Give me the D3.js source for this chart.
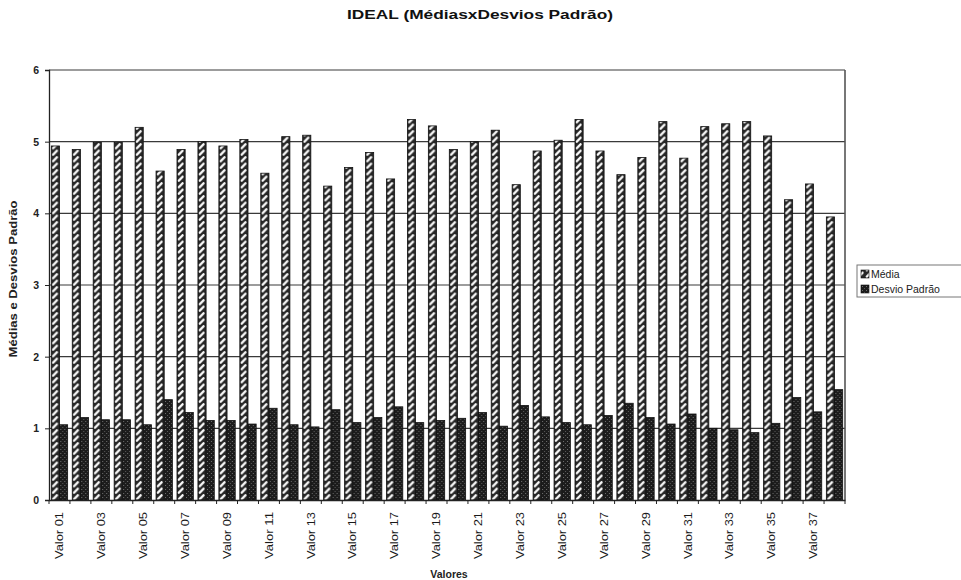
<!DOCTYPE html>
<html>
<head>
<meta charset="utf-8">
<script src="https://cdn.jsdelivr.net/npm/d3@7"></script>
<style>
  html, body { margin: 0; padding: 0; background: #fff; }
  svg { display: block; font-family: Arial, "Liberation Sans", sans-serif; }
</style>
</head>
<body>
<svg id="chart" width="961" height="580"></svg>
<script>
// Categories: Valor 01 .. Valor 38
const categories = [
  "Valor 01","Valor 02","Valor 03","Valor 04","Valor 05","Valor 06","Valor 07","Valor 08",
  "Valor 09","Valor 10","Valor 11","Valor 12","Valor 13","Valor 14","Valor 15","Valor 16",
  "Valor 17","Valor 18","Valor 19","Valor 20","Valor 21","Valor 22","Valor 23","Valor 24",
  "Valor 25","Valor 26","Valor 27","Valor 28","Valor 29","Valor 30","Valor 31","Valor 32",
  "Valor 33","Valor 34","Valor 35","Valor 36","Valor 37","Valor 38"
];

// Média per item
const media = [
  4.94, 4.89, 4.99, 4.99, 5.20, 4.59, 4.89, 5.00, 4.94, 5.03, 4.56, 5.07, 5.09, 4.38,
  4.64, 4.85, 4.48, 5.31, 5.22, 4.89, 5.00, 5.16, 4.40, 4.87, 5.02, 5.31, 4.87, 4.54,
  4.78, 5.28, 4.77, 5.21, 5.25, 5.28, 5.08, 4.19, 4.41, 3.95
];

// Desvio Padrão per item
const desvio = [
  1.05, 1.15, 1.12, 1.12, 1.05, 1.40, 1.22, 1.11, 1.11, 1.06, 1.28, 1.05, 1.02, 1.26,
  1.08, 1.15, 1.30, 1.08, 1.11, 1.14, 1.22, 1.03, 1.32, 1.16, 1.08, 1.05, 1.18, 1.35,
  1.15, 1.06, 1.20, 1.00, 0.98, 0.94, 1.07, 1.43, 1.23, 1.54
];

const seriesNames = ["Média", "Desvio Padrão"];
const yTicks = [0, 1, 2, 3, 4, 5, 6];

const svg = d3.select("#chart");
const plot = { left: 49, right: 845, top: 70, bottom: 500 };

// Fill patterns: wide upward diagonal for Média, dense dark texture for Desvio Padrão
const defs = svg.append("defs");
const pMedia = defs.append("pattern")
  .attr("id", "pat-media").attr("patternUnits", "userSpaceOnUse")
  .attr("width", 8).attr("height", 6.5);
pMedia.append("rect").attr("width", 8).attr("height", 6.5).attr("fill", "#262626");
pMedia.append("path").attr("d", "M1.8,5.2 L5.6,1.2")
  .attr("stroke", "#fafafa").attr("stroke-width", 2.3).attr("stroke-linecap", "round");

const pDesvio = defs.append("pattern")
  .attr("id", "pat-desvio").attr("patternUnits", "userSpaceOnUse")
  .attr("width", 4).attr("height", 4);
pDesvio.append("rect").attr("width", 4).attr("height", 4).attr("fill", "#1c1c1c");
pDesvio.append("rect").attr("x", 1).attr("y", 1).attr("width", 1).attr("height", 1).attr("fill", "#707070");
pDesvio.append("rect").attr("x", 3).attr("y", 3).attr("width", 1).attr("height", 1).attr("fill", "#5a5a5a");

const patternFor = { "Média": "url(#pat-media)", "Desvio Padrão": "url(#pat-desvio)" };

// Scales
const x0 = d3.scaleBand().domain(categories)
  .range([plot.left, plot.right]).paddingInner(0.22).paddingOuter(0.11);
const x1 = d3.scaleBand().domain(seriesNames).range([0, x0.bandwidth()]).padding(0);
const y = d3.scaleLinear().domain([0, 6]).range([plot.bottom, plot.top]);

// Gridlines
svg.append("g").selectAll("line").data(yTicks.filter(d => d > 0)).join("line")
  .attr("x1", plot.left).attr("x2", plot.right)
  .attr("y1", d => y(d)).attr("y2", d => y(d))
  .attr("stroke", "#3a3a3a").attr("stroke-width", 1.2);

// Right border of plot area
svg.append("line")
  .attr("x1", plot.right).attr("x2", plot.right)
  .attr("y1", plot.top).attr("y2", plot.bottom)
  .attr("stroke", "#555").attr("stroke-width", 1.6);

// Bars
const rows = categories.map((c, i) => ({ cat: c, values: [
  { key: "Média", value: media[i] },
  { key: "Desvio Padrão", value: desvio[i] }
]}));

const groups = svg.append("g").selectAll("g").data(rows).join("g")
  .attr("transform", d => `translate(${x0(d.cat)},0)`);
groups.selectAll("rect").data(d => d.values).join("rect")
  .attr("x", d => x1(d.key))
  .attr("y", d => y(d.value))
  .attr("width", x1.bandwidth())
  .attr("height", d => y(0) - y(d.value))
  .attr("fill", d => patternFor[d.key])
  .attr("stroke", "#111").attr("stroke-width", 0.8);

// Y axis
const yAxis = d3.axisLeft(y).tickValues(yTicks).tickSize(4).tickFormat(d3.format("d"));
const gy = svg.append("g").attr("transform", `translate(${plot.left},0)`).call(yAxis);
gy.select(".domain").attr("stroke", "#222").attr("stroke-width", 1.3);
gy.selectAll(".tick line").attr("stroke", "#222");
gy.selectAll(".tick text").attr("font-size", 10.5).attr("font-weight", "bold")
  .attr("fill", "#222").attr("x", -10);

// X axis
const xAxis = d3.axisBottom(x0).tickSize(0).tickFormat((d, i) => i % 2 === 0 ? d : "");
const gx = svg.append("g").attr("transform", `translate(0,${plot.bottom})`).call(xAxis);
gx.select(".domain").attr("stroke", "#222").attr("stroke-width", 1.3);
gx.selectAll(".tick text")
  .attr("font-size", 10.5).attr("fill", "#1a1a1a")
  .attr("transform", "rotate(-90)")
  .attr("text-anchor", "end").attr("dy", "0.35em").attr("x", -12).attr("y", 0)
  .filter(function () { return this.textContent !== ""; })
  .attr("textLength", 47).attr("lengthAdjust", "spacingAndGlyphs");
// category boundary ticks
svg.append("g").selectAll("line").data(d3.range(categories.length + 1)).join("line")
  .attr("x1", i => plot.left + i * (plot.right - plot.left) / categories.length)
  .attr("x2", i => plot.left + i * (plot.right - plot.left) / categories.length)
  .attr("y1", plot.bottom).attr("y2", plot.bottom + 4)
  .attr("stroke", "#222");

// Title
svg.append("text").attr("x", 480).attr("y", 19).attr("text-anchor", "middle")
  .attr("font-size", 12).attr("font-weight", "bold").attr("fill", "#111")
  .attr("textLength", 266).attr("lengthAdjust", "spacingAndGlyphs")
  .text("IDEAL (MédiasxDesvios Padrão)");

// Axis titles
svg.append("text").attr("transform", "translate(17,279) rotate(-90)")
  .attr("text-anchor", "middle").attr("font-size", 10).attr("font-weight", "bold").attr("fill", "#222")
  .attr("textLength", 157).attr("lengthAdjust", "spacingAndGlyphs")
  .text("Médias e Desvios Padrão");
svg.append("text").attr("x", 449).attr("y", 578).attr("text-anchor", "middle")
  .attr("font-size", 10.5).attr("font-weight", "bold").attr("fill", "#222")
  .text("Valores");

// Legend
const lg = svg.append("g").attr("transform", "translate(857,265)");
lg.append("rect").attr("width", 110).attr("height", 32)
  .attr("fill", "#fff").attr("stroke", "#777").attr("stroke-width", 1);
seriesNames.forEach((s, i) => {
  lg.append("rect").attr("x", 4).attr("y", 5 + i * 15).attr("width", 8).attr("height", 8)
    .attr("fill", patternFor[s]).attr("stroke", "#111").attr("stroke-width", 0.6);
  lg.append("text").attr("x", 14).attr("y", 13 + i * 15)
    .attr("font-size", 10.5).attr("fill", "#222").text(s);
});
</script>
</body>
</html>
